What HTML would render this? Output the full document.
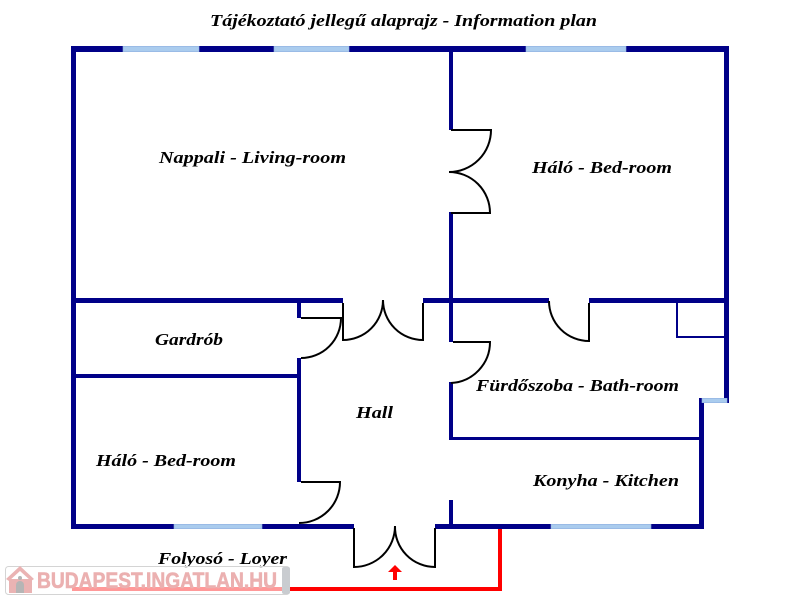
<!DOCTYPE html>
<html>
<head>
<meta charset="utf-8">
<style>
html,body{margin:0;padding:0;background:#fff;}
svg{display:block;}
.lbl{font-family:"Liberation Serif",serif;font-weight:bold;font-style:italic;font-size:17px;fill:#000;}
</style>
</head>
<body>
<svg width="800" height="600" viewBox="0 0 800 600" xmlns="http://www.w3.org/2000/svg">
<rect width="800" height="600" fill="#fff"/>

<!-- Title -->
<text class="lbl" x="210" y="26" textLength="387" lengthAdjust="spacingAndGlyphs">Tájékoztató jellegű alaprajz - Information plan</text>

<g fill="#000088">
  <rect x="71" y="46" width="658" height="6"/>
  <rect x="71" y="46" width="5" height="483"/>
  <rect x="724" y="46" width="5" height="357"/>
  <rect x="699" y="398" width="5" height="131"/>
  <rect x="71" y="524" width="283" height="5"/>
  <rect x="435" y="524" width="269" height="5"/>
  <rect x="71" y="298" width="272" height="5"/>
  <rect x="423" y="298" width="126" height="5"/>
  <rect x="589" y="298" width="140" height="5"/>
  <rect x="449" y="52" width="4" height="78"/>
  <rect x="449" y="212" width="4" height="86"/>
  <rect x="449" y="303" width="4" height="39"/>
  <rect x="449" y="382" width="4" height="58"/>
  <rect x="449" y="500" width="4" height="24"/>
  <rect x="76" y="374" width="225" height="4"/>
  <rect x="297" y="303" width="4" height="15"/>
  <rect x="297" y="358" width="4" height="124"/>
  <rect x="449" y="437" width="252" height="3"/>
  <rect x="676" y="303" width="2" height="35"/>
  <rect x="676" y="336" width="48" height="2"/>
</g>

<!-- windows -->
<g fill="#aaccee" stroke="#8fb0e0" stroke-width="0.6">
  <rect x="123" y="46.3" width="76" height="5.4"/>
  <rect x="274" y="46.3" width="75" height="5.4"/>
  <rect x="526" y="46.3" width="100" height="5.4"/>
  <rect x="174" y="524.3" width="88" height="4.4"/>
  <rect x="551" y="524.3" width="100" height="4.4"/>
  <rect x="702" y="398.3" width="25" height="4.4"/>
</g>

<!-- doors -->
<g fill="none" stroke="#000" stroke-width="2">
  <path d="M451,130 H491 A42,42 0 0 1 449,172 A41,41 0 0 1 490,213 H451"/>
  <path d="M301,318 H341 A40,40 0 0 1 301,358"/>
  <path d="M343,303 V340 A40,40 0 0 0 383,300"/>
  <path d="M423,303 V340 A40,40 0 0 1 383,300"/>
  <path d="M453,342 H490 A41,41 0 0 1 451,383"/>
  <path d="M589,303 V341 A40,40 0 0 1 549,301"/>
  <path d="M301,482 H340 A41,41 0 0 1 299,523"/>
  <path d="M354,528 V567 A41,41 0 0 0 395,526"/>
  <path d="M435,528 V567 A40,40 0 0 1 395,526"/>
</g>

<!-- red path -->
<polyline points="500,529 500,589 72,589" fill="none" stroke="#ff0000" stroke-width="4"/>
<polygon points="395,565 402,572 388,572" fill="#ff0000"/>
<rect x="393" y="571" width="4" height="9" fill="#ff0000"/>

<!-- labels -->
<text class="lbl" x="159" y="163" textLength="187" lengthAdjust="spacingAndGlyphs">Nappali - Living-room</text>
<text class="lbl" x="532" y="173" textLength="140" lengthAdjust="spacingAndGlyphs">Háló - Bed-room</text>
<text class="lbl" x="155" y="345" textLength="68" lengthAdjust="spacingAndGlyphs">Gardrób</text>
<text class="lbl" x="96" y="466" textLength="140" lengthAdjust="spacingAndGlyphs">Háló - Bed-room</text>
<text class="lbl" x="356" y="418" textLength="37" lengthAdjust="spacingAndGlyphs">Hall</text>
<text class="lbl" x="476" y="391" textLength="203" lengthAdjust="spacingAndGlyphs">Fürdőszoba - Bath-room</text>
<text class="lbl" x="533" y="486" textLength="146" lengthAdjust="spacingAndGlyphs">Konyha - Kitchen</text>
<text class="lbl" x="158" y="564" textLength="129" lengthAdjust="spacingAndGlyphs">Folyosó - Loyer</text>

<!-- logo watermark -->
<g>
  <rect x="5.5" y="566.5" width="284" height="28" rx="3" fill="#ffffff" fill-opacity="0.6" stroke="#d4d4d4" stroke-width="1"/>
  <rect x="282" y="567" width="8" height="27" rx="2" fill="#c9ccd0"/>
  <polygon points="6,579 20,566 34,579 31,581 20,571 9,581" fill="#eab3b3"/>
  <rect x="9" y="579" width="23" height="14" fill="#eab3b3"/>
  <path d="M16,593 V585 A4,4 0 0 1 24,585 V593 Z" fill="#b5b5b5"/>
  <circle cx="20" cy="578" r="2" fill="#b5b5b5"/>
  <text x="37" y="588" textLength="240" lengthAdjust="spacingAndGlyphs" font-family="Liberation Sans, sans-serif" font-weight="bold" font-size="22" fill="#ebb0b0" stroke="#ebb0b0" stroke-width="0.6">BUDAPEST.INGATLAN.HU</text>
</g>
</svg>
</body>
</html>
